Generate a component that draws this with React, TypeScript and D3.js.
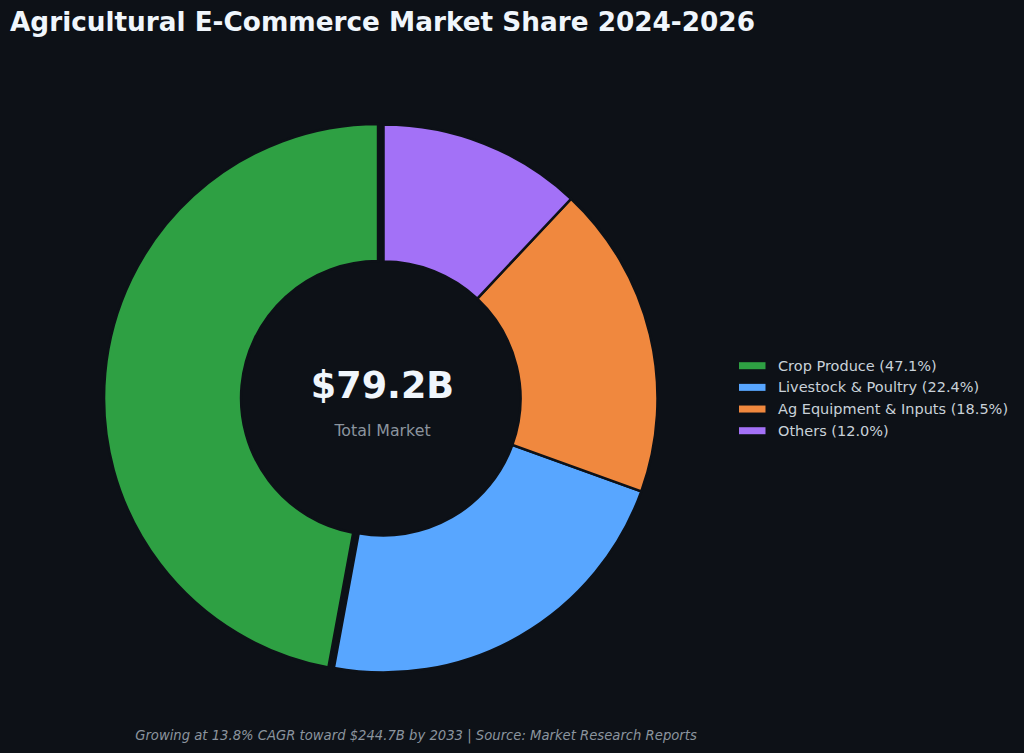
import React from "react";
import * as d3 from "d3";

const categories = ["Crop Produce", "Livestock & Poultry", "Ag Equipment & Inputs", "Others"];
const shares = [47.1, 22.4, 18.5, 12.0];
const colors = ["#2ea043", "#58a6ff", "#f0883e", "#a371f7"];
const explode = [0.02, 0, 0, 0];
const totalLabel = "$79.2B";

const W = 1024, H = 753;
const BG = "#0d1117";

export default function App() {
  const cx = 383.5, cy = 398.5, R = 274;
  const pie = d3.pie<number>().sort(null).startAngle(0).endAngle(-2 * Math.PI);
  const arcs = pie(shares);
  const arc = d3.arc<d3.PieArcDatum<number>>().innerRadius(R * 0.5).outerRadius(R);

  return (
    <svg width={W} height={H} style={{ display: "block", position: "absolute", left: 0, top: 0, background: BG }}
      fontFamily="DejaVu Sans, sans-serif">
      <rect width={W} height={H} fill={BG} />
      <text x={10} y={31} fontSize={26.3} fontWeight="bold" fill="#f0f6fc">
        Agricultural E-Commerce Market Share 2024-2026
      </text>
      <g transform={`translate(${cx},${cy})`}>
        {arcs.map((a, i) => {
          const mid = (a.startAngle + a.endAngle) / 2;
          const off = explode[i] * R;
          const dx = Math.sin(mid) * off, dy = -Math.cos(mid) * off;
          return (
            <path key={i} d={arc(a) || ""} transform={`translate(${dx},${dy})`}
              fill={colors[i]} stroke={BG} strokeWidth={2.5} strokeLinejoin="miter" />
          );
        })}
        <text x={-1} y={-1} textAnchor="middle" fontSize={36.5} fontWeight="bold" fill="#f0f6fc">
          {totalLabel}
        </text>
        <text x={-1} y={37.5} textAnchor="middle" fontSize={15.8} fill="#8b949e">Total Market</text>
      </g>
      <g transform="translate(739,365.7)">
        {categories.map((c, i) => (
          <g key={c} transform={`translate(0,${i * 21.67})`}>
            <rect x={0} y={-3.5} width={26.5} height={7} fill={colors[i]} />
            <text x={39} y={5} fontSize={14.5} fill="#c9d1d9">{`${c} (${shares[i].toFixed(1)}%)`}</text>
          </g>
        ))}
      </g>
      <text x={416} y={740} textAnchor="middle" fontSize={13.2} fontStyle="italic" fill="#8b949e">
        Growing at 13.8% CAGR toward $244.7B by 2033 | Source: Market Research Reports
      </text>
    </svg>
  );
}
